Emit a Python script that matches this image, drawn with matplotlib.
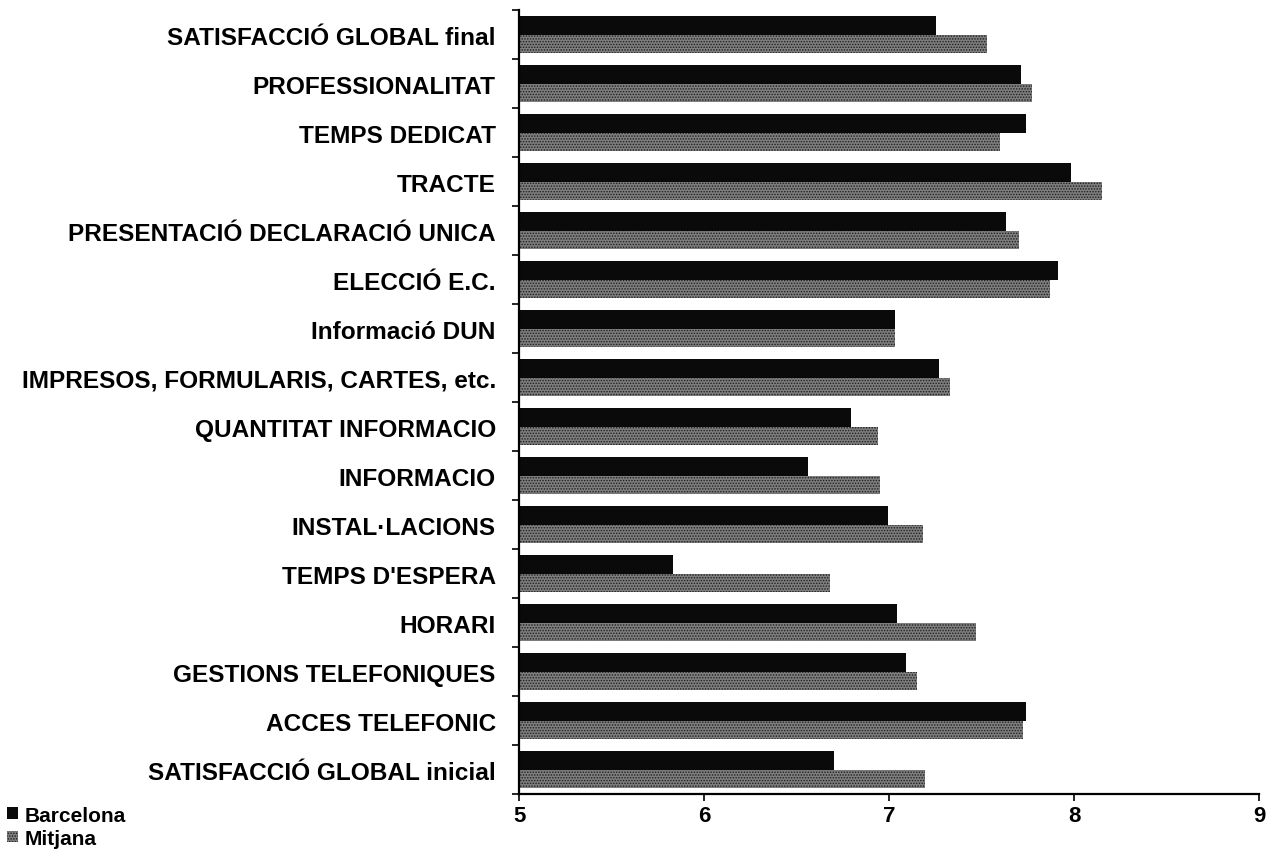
import matplotlib.pyplot as plt
import numpy as np

plt.rcParams["font.family"] = ["Liberation Sans", "DejaVu Sans"]
plt.rcParams["font.weight"] = "bold"
plt.rcParams["hatch.linewidth"] = 0.7

# categories listed bottom to top
categories = [
    "SATISFACCIÓ GLOBAL inicial",
    "ACCES TELEFONIC",
    "GESTIONS TELEFONIQUES",
    "HORARI",
    "TEMPS D'ESPERA",
    "INSTAL·LACIONS",
    "INFORMACIO",
    "QUANTITAT INFORMACIO",
    "IMPRESOS, FORMULARIS, CARTES, etc.",
    "Informació DUN",
    "ELECCIÓ E.C.",
    "PRESENTACIÓ DECLARACIÓ UNICA",
    "TRACTE",
    "TEMPS DEDICAT",
    "PROFESSIONALITAT",
    "SATISFACCIÓ GLOBAL final",
]
barcelona = [6.70, 7.74, 7.09, 7.04, 5.83, 6.99, 6.56, 6.79, 7.27, 7.03,
             7.91, 7.63, 7.98, 7.74, 7.71, 7.25]
mitjana = [7.19, 7.72, 7.15, 7.47, 6.68, 7.18, 6.95, 6.94, 7.33, 7.03,
           7.87, 7.70, 8.15, 7.60, 7.77, 7.53]
xticks = [5, 6, 7, 8, 9]


def main():
    fig = plt.figure(figsize=(12.67, 8.54), dpi=100)
    ax = fig.add_axes([0.41, 0.069, 0.584, 0.918])

    y = np.arange(len(categories))
    h = 0.37
    ax.barh(y + h / 2, np.array(barcelona) - 5, left=5, height=h,
            color="#0a0a0a", label="Barcelona")
    ax.barh(y - h / 2, np.array(mitjana) - 5, left=5, height=h,
            facecolor="#7e7e7e", hatch="......", edgecolor="#1e1e1e",
            linewidth=0, label="Mitjana")

    ax.set_xlim(5, 9)
    ax.set_ylim(-0.5, len(categories) - 0.5)
    ax.set_xticks(xticks)
    ax.set_xticklabels([str(t) for t in xticks], fontsize=16, fontweight="bold")
    ax.set_yticks(y)
    ax.set_yticklabels(categories, fontsize=17.6, fontweight="bold")
    ax.tick_params(axis="y", length=0, pad=17)
    ax.set_yticks(np.arange(-0.5, len(categories), 1.0), minor=True)
    ax.tick_params(axis="y", which="minor", length=5, width=1.2)
    ax.tick_params(axis="x", length=5, width=1.2, pad=3)

    for side in ["top", "right"]:
        ax.spines[side].set_visible(False)
    for side in ["left", "bottom"]:
        ax.spines[side].set_linewidth(1.6)

    fig.legend(loc="lower left", bbox_to_anchor=(-0.009, -0.016), frameon=False,
               fontsize=15, handlelength=0.5, handleheight=0.5,
               handletextpad=0.35, labelspacing=0.2)

    fig.savefig("out.png", dpi=100)


if __name__ == "__main__":
    main()
